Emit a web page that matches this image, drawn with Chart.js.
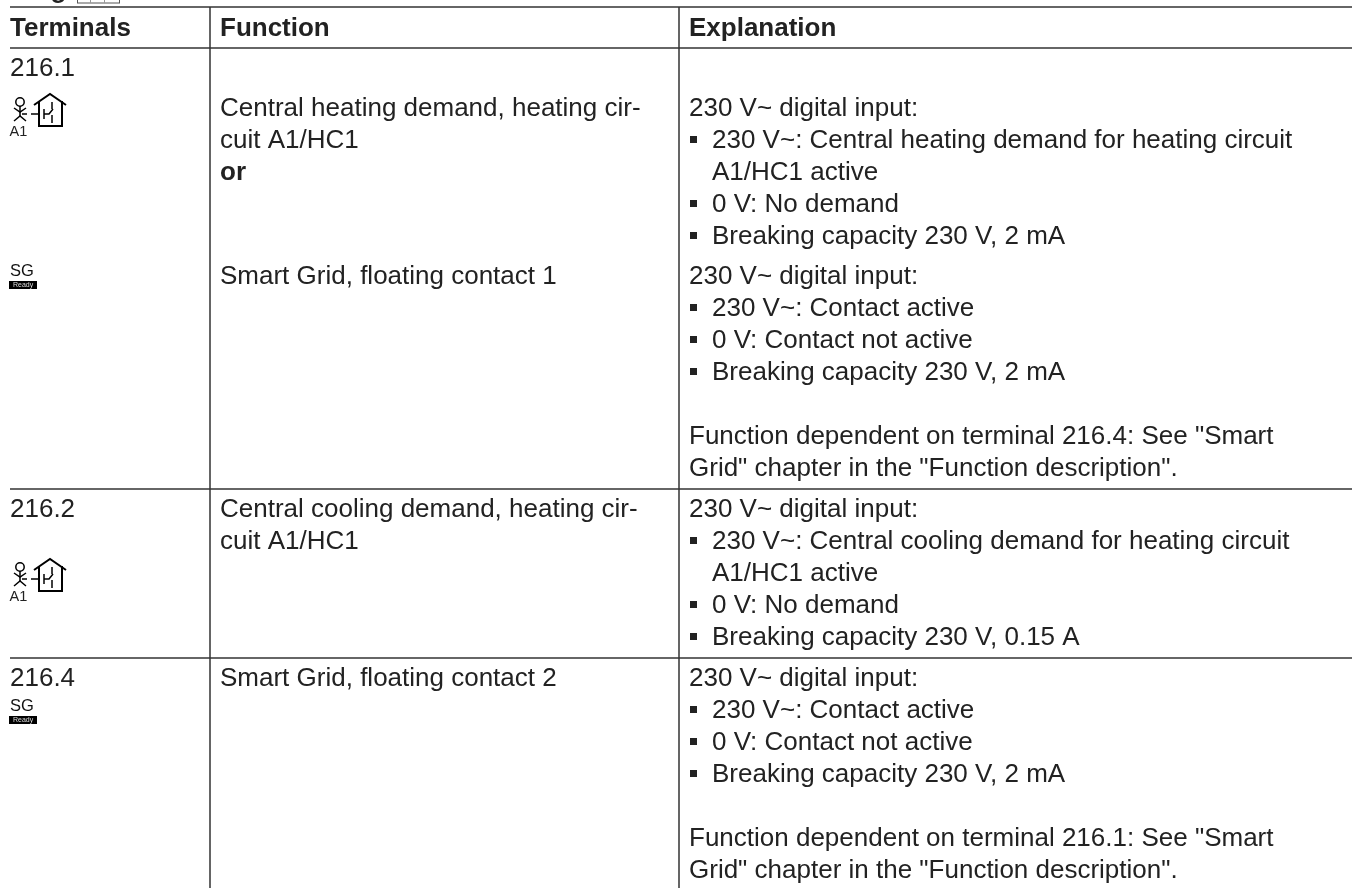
<!DOCTYPE html>
<html>
<head>
<meta charset="utf-8">
<title>Terminals</title>
<style>
html, body { margin: 0; padding: 0; background: #fff; }
canvas { display: block; }
</style>
</head>
<body>
<canvas id="chart" width="1352" height="888"></canvas>
<script src="https://cdn.jsdelivr.net/npm/chart.js"></script>
<script>
// the picture is a table, so the axes run in page pixels and the rules are line datasets
const headers = ['Terminals', 'Function', 'Explanation'];
const terminals = ['216.1', '216.2', '216.4'];
const functions = [
  ['Central heating demand, heating cir-', 'cuit A1/HC1', '*or'],
  ['Smart Grid, floating contact 1'],
  ['Central cooling demand, heating cir-', 'cuit A1/HC1'],
  ['Smart Grid, floating contact 2']
];
const explanations = [
  ['230 V~ digital input:', '-230 V~: Central heating demand for heating circuit', ' A1/HC1 active', '-0 V: No demand', '-Breaking capacity 230 V, 2 mA'],
  ['230 V~ digital input:', '-230 V~: Contact active', '-0 V: Contact not active', '-Breaking capacity 230 V, 2 mA', '', 'Function dependent on terminal 216.4: See "Smart', 'Grid" chapter in the "Function description".'],
  ['230 V~ digital input:', '-230 V~: Central cooling demand for heating circuit', ' A1/HC1 active', '-0 V: No demand', '-Breaking capacity 230 V, 0.15 A'],
  ['230 V~ digital input:', '-230 V~: Contact active', '-0 V: Contact not active', '-Breaking capacity 230 V, 2 mA', '', 'Function dependent on terminal 216.1: See "Smart', 'Grid" chapter in the "Function description".']
];

const ruleRows = [7, 48, 489, 658];
const ruleCols = [210, 679];
const textCols = [10, 220, 689];
const terminalY = [67, 508, 677];
const blockY = [107, 275, 508, 677];
const personY = [0, 465];
const sgY = [0, 435];

const font = '"Liberation Sans", Arial, sans-serif';
const ink = '#222222';
const pitch = 32;
const textDrop = 2; // canvas 'middle' sits a bit high against the source

const rules = [];
ruleRows.forEach(y => rules.push([{ x: 10, y: y }, { x: 1352, y: y }]));
ruleCols.forEach(x => rules.push([{ x: x, y: 7 }, { x: x, y: 888 }]));

function putText(c, str, x, y, size, bold, color) {
  c.font = (bold ? 'bold ' : '') + size + 'px ' + font;
  c.fillStyle = color || ink;
  c.textBaseline = 'middle';
  c.textAlign = 'left';
  c.fillText(str, x, y + textDrop);
}

function stroke(c, sx, sy, pts, dy) {
  c.beginPath();
  pts.forEach((p, i) => {
    const px = sx.getPixelForValue(p[0]), py = sy.getPixelForValue(p[1] + dy);
    if (i === 0) c.moveTo(px, py); else c.lineTo(px, py);
  });
  c.stroke();
}

const tablePlugin = {
  id: 'table',
  afterDatasetsDraw(chart) {
    const c = chart.ctx, sx = chart.scales.x, sy = chart.scales.y;
    const X = v => sx.getPixelForValue(v), Y = v => sy.getPixelForValue(v);
    c.save();

    // heading above the table, cut off by the top edge in the source
    putText(c, 'Plug', X(10), Y(-11), 26, true);
    c.strokeStyle = '#555';
    c.lineWidth = 1;
    c.strokeRect(X(77.5), Y(-10), 42, 13);
    c.fillStyle = '#999';
    c.fillRect(X(90), Y(0), 1, 3);
    c.fillRect(X(104), Y(0), 1, 3);

    headers.forEach((h, i) => putText(c, h, X(textCols[i]), Y(27), 26, true));
    terminals.forEach((t, i) => putText(c, t, X(textCols[0]), Y(terminalY[i]), 26));

    functions.forEach((lines, b) => lines.forEach((l, i) => {
      const bold = l[0] === '*';
      putText(c, bold ? l.slice(1) : l, X(textCols[1]), Y(blockY[b] + i * pitch), 26, bold);
    }));

    explanations.forEach((lines, b) => lines.forEach((l, i) => {
      const y = blockY[b] + i * pitch;
      if (l[0] === '-') {
        c.fillStyle = ink;
        c.fillRect(X(690), Y(y - 3), 7, 7);
        putText(c, l.slice(1), X(712), Y(y), 26);
      } else if (l[0] === ' ') {
        putText(c, l.slice(1), X(712), Y(y), 26);
      } else {
        putText(c, l, X(textCols[2]), Y(y), 26);
      }
    }));

    // person + house symbol
    c.strokeStyle = '#000';
    personY.forEach(dy => {
      c.lineWidth = 1.5;
      c.beginPath();
      c.arc(X(20), Y(102 + dy), 4.2, 0, Math.PI * 2);
      c.stroke();
      stroke(c, sx, sy, [[20, 106], [20, 116]], dy);
      stroke(c, sx, sy, [[14, 108], [20, 112], [26, 108]], dy);
      stroke(c, sx, sy, [[14, 121], [20, 116], [26, 121]], dy);
      stroke(c, sx, sy, [[22, 114], [27, 114]], dy);
      stroke(c, sx, sy, [[31, 114], [38, 114]], dy);
      c.lineWidth = 2;
      stroke(c, sx, sy, [[39, 101], [39, 126], [62, 126], [62, 101]], dy);
      stroke(c, sx, sy, [[34, 105], [50, 94], [66, 105]], dy);
      c.lineWidth = 1.5;
      stroke(c, sx, sy, [[44, 109], [44, 119]], dy);
      stroke(c, sx, sy, [[44, 114], [49, 114], [53, 109]], dy);
      stroke(c, sx, sy, [[52, 102], [52, 109]], dy);
      stroke(c, sx, sy, [[52, 115], [52, 123]], dy);
      putText(c, 'A1', X(9.5), Y(130 + dy), 14.5);
    });

    // SG Ready symbol
    sgY.forEach(dy => {
      putText(c, 'SG', X(10), Y(269 + dy), 16.5, false, '#111');
      c.fillStyle = '#000';
      c.fillRect(X(9), Y(281 + dy), 28, 8);
      putText(c, 'Ready', X(13), Y(283 + dy), 7, false, '#ddd');
    });

    c.restore();
  }
};

new Chart(document.getElementById('chart'), {
  type: 'scatter',
  data: {
    datasets: rules.map(r => ({
      data: r,
      showLine: true,
      borderColor: '#333333',
      borderWidth: 1.5,
      pointRadius: 0,
      clip: false
    }))
  },
  options: {
    responsive: false,
    animation: false,
    events: [],
    layout: { padding: 0 },
    plugins: { legend: { display: false }, tooltip: { enabled: false } },
    scales: {
      x: { type: 'linear', display: false, min: 0, max: 1352 },
      y: { type: 'linear', display: false, min: 0, max: 888, reverse: true }
    }
  },
  plugins: [tablePlugin]
});
</script>
</body>
</html>
